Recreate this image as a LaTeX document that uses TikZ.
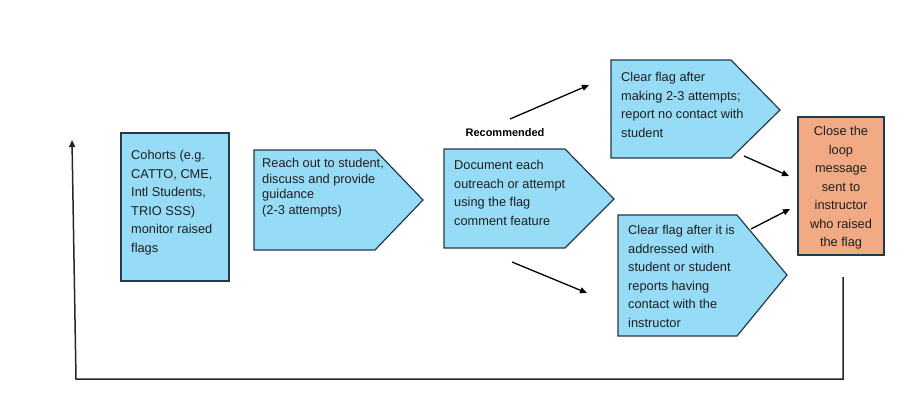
\documentclass[tikz,border=0pt]{standalone}
\usepackage{fontspec}
\setmainfont{Liberation Sans}
\usetikzlibrary{arrows.meta}
\definecolor{stepblue}{HTML}{97DCF6}
\definecolor{stepedge}{HTML}{24394A}
\definecolor{closefill}{HTML}{F2AA84}
\definecolor{textgray}{HTML}{1E1E1E}

\begin{document}
\begin{tikzpicture}[x=1pt,y=-1pt,
  steptext/.style={inner sep=0pt, anchor=north west, align=left, text=textgray,
    font=\fontsize{12.8}{18.5}\selectfont},
  stepbox/.style={fill=stepblue, draw=stepedge, line width=1.2},
  flow/.style={line width=1.3, -{Triangle[length=7pt,width=6pt]}},
  ]
\useasboundingbox (0,0) rectangle (911,420);

% cohorts box
\filldraw[stepbox] (121,133) rectangle (229,281);
\node[steptext] (cohorts) at (131,150.5) {Cohorts (e.g.\\CATTO, CME,\\Intl Students,\\TRIO SSS)\\monitor raised\\flags};

% reach out
\filldraw[stepbox] (254,150) -- (375,150) -- (423,200) -- (375,250) -- (254,250) -- cycle;
\node[steptext, font=\fontsize{12.8}{15.5}\selectfont] (reach) at (262,158.5) {Reach out to student,\\discuss and provide\\guidance\\(2-3 attempts)};

% document
\filldraw[stepbox] (444,149) -- (565,149) -- (614,199) -- (565,248) -- (444,248) -- cycle;
\node[steptext] (document) at (454,160.5) {Document each\\outreach or attempt\\using the flag\\comment feature};
\node[font=\bfseries\fontsize{11}{13}\selectfont, inner sep=0pt] (recommended) at (505,133) {Recommended};

% clear flag, no contact
\filldraw[stepbox] (611,60) -- (731,60) -- (780,110) -- (731,158) -- (611,158) -- cycle;
\node[steptext] (clearnone) at (621,72.5) {Clear flag after\\making 2-3 attempts;\\report no contact with\\student};

% clear flag, addressed
\filldraw[stepbox] (618,215) -- (737,215) -- (787,275) -- (737,336) -- (618,336) -- cycle;
\node[steptext] (clearcontact) at (628,225.5) {Clear flag after it is\\addressed with\\student or student\\reports having\\contact with the\\instructor};

% close the loop
\filldraw[fill=closefill, draw=stepedge, line width=1.2] (798,117) rectangle (884,255);
\node[steptext, anchor=north, align=center] (close) at (841,126.5) {Close the\\loop\\message\\sent to\\instructor\\who raised\\the flag};

% arrows
\coordinate (docup) at (510,119);
\coordinate (noneleft) at (589,85);
\coordinate (docdown) at (512,262);
\coordinate (contactleft) at (587,293);
\coordinate (noneright) at (744,156);
\coordinate (closeupper) at (789,176);
\coordinate (contactright) at (751,229);
\coordinate (closelower) at (790,209);
\draw[flow] (docup) -- (noneleft);
\draw[flow] (docdown) -- (contactleft);
\draw[flow] (noneright) -- (closeupper);
\draw[flow] (contactright) -- (closelower);

% loop back
\coordinate (loopstart) at (843,277);
\coordinate (loopright) at (843,379);
\coordinate (loopleft) at (76,379);
\coordinate (loopend) at (72,140);
\draw[flow, line width=1.5, draw=black!85] (loopstart) -- (loopright) -- (loopleft) -- (loopend);

\end{tikzpicture}
\end{document}
